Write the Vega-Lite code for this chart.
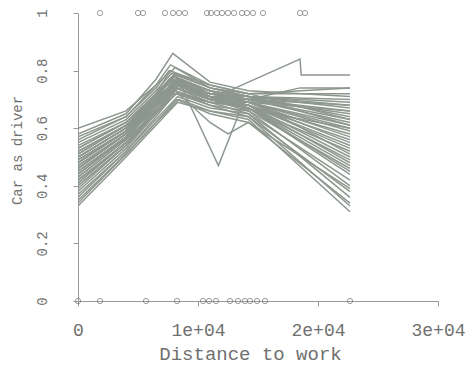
{
"$schema": "https://vega.github.io/schema/vega-lite/v6.json",
"autosize": {"type": "none"},
"padding": {"left": 78, "top": 13, "right": 34, "bottom": 66},
"width": 360,
"height": 288,
"background": "white",
"config": {"view": {"stroke": null}, "axis": {"grid": false, "labelFont": "Liberation Mono", "titleFont": "Liberation Mono", "labelColor": "#707070", "titleColor": "#707070", "titleFontWeight": "normal", "domainColor": "#999", "tickColor": "#999", "tickSize": 5}},
"datasets": {
"lines": [
{"g":1,"x":0,"y":0.45},{"g":1,"x":4000,"y":0.57},{"g":1,"x":6500,"y":0.68},{"g":1,"x":8100,"y":0.75},{"g":1,"x":11000,"y":0.71},{"g":1,"x":14200,"y":0.69},{"g":1,"x":22667,"y":0.55},
{"g":2,"x":0,"y":0.48},{"g":2,"x":4000,"y":0.59},{"g":2,"x":6500,"y":0.69},{"g":2,"x":7900,"y":0.76},{"g":2,"x":11000,"y":0.72},{"g":2,"x":14200,"y":0.70},{"g":2,"x":22667,"y":0.62},
{"g":3,"x":0,"y":0.42},{"g":3,"x":4000,"y":0.55},{"g":3,"x":6500,"y":0.66},{"g":3,"x":8300,"y":0.74},{"g":3,"x":11000,"y":0.70},{"g":3,"x":14200,"y":0.68},{"g":3,"x":22667,"y":0.48},
{"g":4,"x":0,"y":0.50},{"g":4,"x":4000,"y":0.60},{"g":4,"x":6500,"y":0.70},{"g":4,"x":7600,"y":0.77},{"g":4,"x":11000,"y":0.72},{"g":4,"x":14200,"y":0.70},{"g":4,"x":22667,"y":0.66},
{"g":5,"x":0,"y":0.40},{"g":5,"x":4000,"y":0.54},{"g":5,"x":6500,"y":0.65},{"g":5,"x":8100,"y":0.72},{"g":5,"x":11000,"y":0.69},{"g":5,"x":14200,"y":0.67},{"g":5,"x":22667,"y":0.44},
{"g":6,"x":0,"y":0.52},{"g":6,"x":4000,"y":0.61},{"g":6,"x":6500,"y":0.71},{"g":6,"x":8000,"y":0.78},{"g":6,"x":11000,"y":0.73},{"g":6,"x":14200,"y":0.71},{"g":6,"x":22667,"y":0.70},
{"g":7,"x":0,"y":0.46},{"g":7,"x":4000,"y":0.58},{"g":7,"x":6500,"y":0.69},{"g":7,"x":8300,"y":0.76},{"g":7,"x":11000,"y":0.70},{"g":7,"x":14200,"y":0.67},{"g":7,"x":22667,"y":0.52},
{"g":8,"x":0,"y":0.38},{"g":8,"x":4000,"y":0.53},{"g":8,"x":6500,"y":0.65},{"g":8,"x":8100,"y":0.73},{"g":8,"x":11000,"y":0.68},{"g":8,"x":14200,"y":0.66},{"g":8,"x":22667,"y":0.40},
{"g":9,"x":0,"y":0.55},{"g":9,"x":4000,"y":0.63},{"g":9,"x":6500,"y":0.73},{"g":9,"x":7800,"y":0.79},{"g":9,"x":11000,"y":0.74},{"g":9,"x":14200,"y":0.72},{"g":9,"x":22667,"y":0.72},
{"g":10,"x":0,"y":0.44},{"g":10,"x":4000,"y":0.565},{"g":10,"x":6500,"y":0.68},{"g":10,"x":8100,"y":0.75},{"g":10,"x":11000,"y":0.71},{"g":10,"x":14200,"y":0.68},{"g":10,"x":22667,"y":0.58},
{"g":11,"x":0,"y":0.49},{"g":11,"x":4000,"y":0.59},{"g":11,"x":6500,"y":0.70},{"g":11,"x":8200,"y":0.77},{"g":11,"x":11000,"y":0.73},{"g":11,"x":14200,"y":0.69},{"g":11,"x":22667,"y":0.60},
{"g":12,"x":0,"y":0.36},{"g":12,"x":4000,"y":0.52},{"g":12,"x":6500,"y":0.63},{"g":12,"x":8300,"y":0.71},{"g":12,"x":11000,"y":0.67},{"g":12,"x":14200,"y":0.65},{"g":12,"x":22667,"y":0.36},
{"g":13,"x":0,"y":0.53},{"g":13,"x":4000,"y":0.62},{"g":13,"x":6500,"y":0.71},{"g":13,"x":7700,"y":0.77},{"g":13,"x":11000,"y":0.71},{"g":13,"x":14200,"y":0.70},{"g":13,"x":22667,"y":0.68},
{"g":14,"x":0,"y":0.43},{"g":14,"x":4000,"y":0.56},{"g":14,"x":6500,"y":0.66},{"g":14,"x":8100,"y":0.73},{"g":14,"x":11000,"y":0.69},{"g":14,"x":14200,"y":0.68},{"g":14,"x":22667,"y":0.50},
{"g":15,"x":0,"y":0.47},{"g":15,"x":4000,"y":0.58},{"g":15,"x":6500,"y":0.68},{"g":15,"x":8000,"y":0.75},{"g":15,"x":11000,"y":0.72},{"g":15,"x":14200,"y":0.71},{"g":15,"x":22667,"y":0.64},
{"g":16,"x":0,"y":0.41},{"g":16,"x":4000,"y":0.55},{"g":16,"x":6500,"y":0.66},{"g":16,"x":8200,"y":0.74},{"g":16,"x":11000,"y":0.70},{"g":16,"x":14200,"y":0.66},{"g":16,"x":22667,"y":0.46},
{"g":17,"x":0,"y":0.50},{"g":17,"x":4000,"y":0.60},{"g":17,"x":6500,"y":0.71},{"g":17,"x":7900,"y":0.78},{"g":17,"x":11000,"y":0.72},{"g":17,"x":14200,"y":0.69},{"g":17,"x":22667,"y":0.57},
{"g":18,"x":0,"y":0.33},{"g":18,"x":4000,"y":0.50},{"g":18,"x":6500,"y":0.61},{"g":18,"x":8300,"y":0.69},{"g":18,"x":11000,"y":0.66},{"g":18,"x":14200,"y":0.63},{"g":18,"x":22667,"y":0.31},
{"g":19,"x":0,"y":0.57},{"g":19,"x":4000,"y":0.64},{"g":19,"x":6500,"y":0.74},{"g":19,"x":7600,"y":0.80},{"g":19,"x":11000,"y":0.75},{"g":19,"x":14200,"y":0.72},{"g":19,"x":22667,"y":0.74},
{"g":20,"x":0,"y":0.45},{"g":20,"x":4000,"y":0.57},{"g":20,"x":6500,"y":0.67},{"g":20,"x":8100,"y":0.74},{"g":20,"x":11000,"y":0.70},{"g":20,"x":14200,"y":0.69},{"g":20,"x":22667,"y":0.61},
{"g":21,"x":0,"y":0.39},{"g":21,"x":4000,"y":0.54},{"g":21,"x":6500,"y":0.65},{"g":21,"x":8200,"y":0.72},{"g":21,"x":11000,"y":0.69},{"g":21,"x":14200,"y":0.65},{"g":21,"x":22667,"y":0.42},
{"g":22,"x":0,"y":0.51},{"g":22,"x":4000,"y":0.61},{"g":22,"x":6500,"y":0.70},{"g":22,"x":8000,"y":0.76},{"g":22,"x":11000,"y":0.71},{"g":22,"x":14200,"y":0.70},{"g":22,"x":22667,"y":0.65},
{"g":23,"x":0,"y":0.46},{"g":23,"x":4000,"y":0.58},{"g":23,"x":6500,"y":0.69},{"g":23,"x":7900,"y":0.76},{"g":23,"x":11000,"y":0.72},{"g":23,"x":14200,"y":0.68},{"g":23,"x":22667,"y":0.53},
{"g":24,"x":0,"y":0.54},{"g":24,"x":4000,"y":0.62},{"g":24,"x":6500,"y":0.72},{"g":24,"x":8100,"y":0.79},{"g":24,"x":11000,"y":0.74},{"g":24,"x":14200,"y":0.71},{"g":24,"x":22667,"y":0.69},
{"g":25,"x":0,"y":0.37},{"g":25,"x":4000,"y":0.52},{"g":25,"x":6500,"y":0.64},{"g":25,"x":8100,"y":0.72},{"g":25,"x":11000,"y":0.68},{"g":25,"x":14200,"y":0.64},{"g":25,"x":22667,"y":0.38},
{"g":26,"x":0,"y":0.48},{"g":26,"x":4000,"y":0.59},{"g":26,"x":6500,"y":0.69},{"g":26,"x":8300,"y":0.75},{"g":26,"x":11000,"y":0.70},{"g":26,"x":14200,"y":0.69},{"g":26,"x":22667,"y":0.59},
{"g":27,"x":0,"y":0.43},{"g":27,"x":4000,"y":0.56},{"g":27,"x":6500,"y":0.68},{"g":27,"x":7800,"y":0.76},{"g":27,"x":11000,"y":0.71},{"g":27,"x":14200,"y":0.67},{"g":27,"x":22667,"y":0.49},
{"g":28,"x":0,"y":0.50},{"g":28,"x":4000,"y":0.60},{"g":28,"x":6500,"y":0.70},{"g":28,"x":8100,"y":0.76},{"g":28,"x":11000,"y":0.73},{"g":28,"x":14200,"y":0.70},{"g":28,"x":22667,"y":0.63},
{"g":29,"x":0,"y":0.60},{"g":29,"x":4000,"y":0.66},{"g":29,"x":6500,"y":0.75},{"g":29,"x":8100,"y":0.81},{"g":29,"x":11000,"y":0.74},{"g":29,"x":14200,"y":0.71},{"g":29,"x":22667,"y":0.67},
{"g":30,"x":0,"y":0.58},{"g":30,"x":4000,"y":0.65},{"g":30,"x":6500,"y":0.77},{"g":30,"x":7900,"y":0.86},{"g":30,"x":11000,"y":0.76},{"g":30,"x":14200,"y":0.73},{"g":30,"x":22667,"y":0.71},
{"g":31,"x":0,"y":0.35},{"g":31,"x":4000,"y":0.51},{"g":31,"x":6500,"y":0.62},{"g":31,"x":8200,"y":0.70},{"g":31,"x":11000,"y":0.65},{"g":31,"x":14200,"y":0.62},{"g":31,"x":22667,"y":0.34},
{"g":32,"x":0,"y":0.47},{"g":32,"x":4000,"y":0.58},{"g":32,"x":6500,"y":0.69},{"g":32,"x":8100,"y":0.77},{"g":32,"x":11000,"y":0.71},{"g":32,"x":14200,"y":0.68},{"g":32,"x":22667,"y":0.56},
{"g":33,"x":0,"y":0.44},{"g":33,"x":4000,"y":0.57},{"g":33,"x":6500,"y":0.70},{"g":33,"x":8000,"y":0.78},{"g":33,"x":11000,"y":0.73},{"g":33,"x":14200,"y":0.70},{"g":33,"x":22667,"y":0.51},
{"g":34,"x":0,"y":0.52},{"g":34,"x":4000,"y":0.61},{"g":34,"x":6500,"y":0.69},{"g":34,"x":8300,"y":0.75},{"g":34,"x":11000,"y":0.70},{"g":34,"x":14200,"y":0.69},{"g":34,"x":22667,"y":0.66},
{"g":35,"x":0,"y":0.40},{"g":35,"x":4000,"y":0.54},{"g":35,"x":6500,"y":0.66},{"g":35,"x":8100,"y":0.74},{"g":35,"x":11000,"y":0.70},{"g":35,"x":14200,"y":0.67},{"g":35,"x":22667,"y":0.45},
{"g":36,"x":0,"y":0.49},{"g":36,"x":4000,"y":0.59},{"g":36,"x":6500,"y":0.72},{"g":36,"x":7700,"y":0.80},{"g":36,"x":11000,"y":0.74},{"g":36,"x":14200,"y":0.71},{"g":36,"x":22667,"y":0.61},
{"g":37,"x":0,"y":0.53},{"g":37,"x":4000,"y":0.62},{"g":37,"x":6500,"y":0.72},{"g":37,"x":8100,"y":0.79},{"g":37,"x":11700,"y":0.47},{"g":37,"x":13600,"y":0.67},{"g":37,"x":22667,"y":0.60},
{"g":38,"x":0,"y":0.50},{"g":38,"x":4000,"y":0.60},{"g":38,"x":6500,"y":0.71},{"g":38,"x":8100,"y":0.78},{"g":38,"x":11000,"y":0.70},{"g":38,"x":14200,"y":0.76},{"g":38,"x":18500,"y":0.84},{"g":38,"x":18600,"y":0.785},{"g":38,"x":22667,"y":0.785},
{"g":39,"x":0,"y":0.48},{"g":39,"x":4000,"y":0.59},{"g":39,"x":6500,"y":0.69},{"g":39,"x":8100,"y":0.76},{"g":39,"x":11000,"y":0.72},{"g":39,"x":14200,"y":0.70},{"g":39,"x":18500,"y":0.74},{"g":39,"x":18600,"y":0.74},{"g":39,"x":22667,"y":0.74},
{"g":40,"x":0,"y":0.42},{"g":40,"x":4000,"y":0.55},{"g":40,"x":6500,"y":0.66},{"g":40,"x":8100,"y":0.73},{"g":40,"x":11000,"y":0.62},{"g":40,"x":12500,"y":0.58},{"g":40,"x":14200,"y":0.62},{"g":40,"x":22667,"y":0.39},
{"g":41,"x":0,"y":0.34},{"g":41,"x":4000,"y":0.51},{"g":41,"x":6500,"y":0.62},{"g":41,"x":8400,"y":0.70},{"g":41,"x":11000,"y":0.66},{"g":41,"x":14200,"y":0.64},{"g":41,"x":22667,"y":0.33},
{"g":42,"x":0,"y":0.46},{"g":42,"x":4000,"y":0.58},{"g":42,"x":6500,"y":0.68},{"g":42,"x":8100,"y":0.74},{"g":42,"x":11000,"y":0.69},{"g":42,"x":14200,"y":0.68},{"g":42,"x":22667,"y":0.54},
{"g":43,"x":0,"y":0.51},{"g":43,"x":4000,"y":0.61},{"g":43,"x":6500,"y":0.71},{"g":43,"x":7900,"y":0.77},{"g":43,"x":11000,"y":0.72},{"g":43,"x":14200,"y":0.71},{"g":43,"x":22667,"y":0.68},
{"g":44,"x":0,"y":0.41},{"g":44,"x":4000,"y":0.55},{"g":44,"x":6500,"y":0.67},{"g":44,"x":8200,"y":0.75},{"g":44,"x":11000,"y":0.71},{"g":44,"x":14200,"y":0.67},{"g":44,"x":22667,"y":0.47},
{"g":45,"x":0,"y":0.56},{"g":45,"x":4000,"y":0.64},{"g":45,"x":6500,"y":0.75},{"g":45,"x":7700,"y":0.82},{"g":45,"x":11000,"y":0.75},{"g":45,"x":14200,"y":0.72},{"g":45,"x":22667,"y":0.63}
],
"pts": [
{"x":1833,"y":1},{"x":5000,"y":1},{"x":5417,"y":1},{"x":7250,"y":1},{"x":7917,"y":1},{"x":8417,"y":1},{"x":8917,"y":1},{"x":10750,"y":1},{"x":11083,"y":1},{"x":11583,"y":1},{"x":12000,"y":1},{"x":12500,"y":1},{"x":13000,"y":1},{"x":13667,"y":1},{"x":14083,"y":1},{"x":14583,"y":1},{"x":15417,"y":1},{"x":18500,"y":1},{"x":18917,"y":1},
{"x":0,"y":0},{"x":1833,"y":0},{"x":5667,"y":0},{"x":8250,"y":0},{"x":10417,"y":0},{"x":10917,"y":0},{"x":11500,"y":0},{"x":12667,"y":0},{"x":13333,"y":0},{"x":13917,"y":0},{"x":14333,"y":0},{"x":14917,"y":0},{"x":15583,"y":0},{"x":22667,"y":0}
]
},
"layer": [
{
"data": {"name": "lines"},
"mark": {"type": "line", "color": "#8d978f", "strokeWidth": 1.5, "clip": true},
"encoding": {
"x": {"field": "x", "type": "quantitative", "scale": {"domain": [0, 30000], "nice": false, "zero": false},
"axis": {"values": [0, 10000, 20000, 30000], "labelExpr": "datum.value == 0 ? '0' : format(datum.value / 10000, 'd') + 'e+04'", "labelFontSize": 18, "labelPadding": 24, "labelBaseline": "middle", "labelFlush": false, "title": "Distance to work", "titleFontSize": 19, "titleX": 172, "titleY": 52, "titleBaseline": "middle", "titleAlign": "center"}},
"y": {"field": "y", "type": "quantitative", "scale": {"domain": [0, 1], "nice": false},
"axis": {"values": [0, 0.2, 0.4, 0.6, 0.8, 1], "format": "~g", "labelAngle": -90, "labelAlign": "center", "labelBaseline": "alphabetic", "labelFontSize": 14, "labelPadding": 27, "labelFlush": false, "title": "Car as driver", "titleFontSize": 14, "titleAngle": -90, "titleX": -61, "titleY": 137, "titleBaseline": "middle", "titleAlign": "center"}},
"detail": {"field": "g", "type": "nominal"}
}
},
{
"data": {"name": "pts"},
"mark": {"type": "point", "shape": "circle", "filled": false, "color": "#777", "size": 28, "strokeWidth": 1, "clip": false},
"encoding": {
"x": {"field": "x", "type": "quantitative"},
"y": {"field": "y", "type": "quantitative"}
}
}
]
}
